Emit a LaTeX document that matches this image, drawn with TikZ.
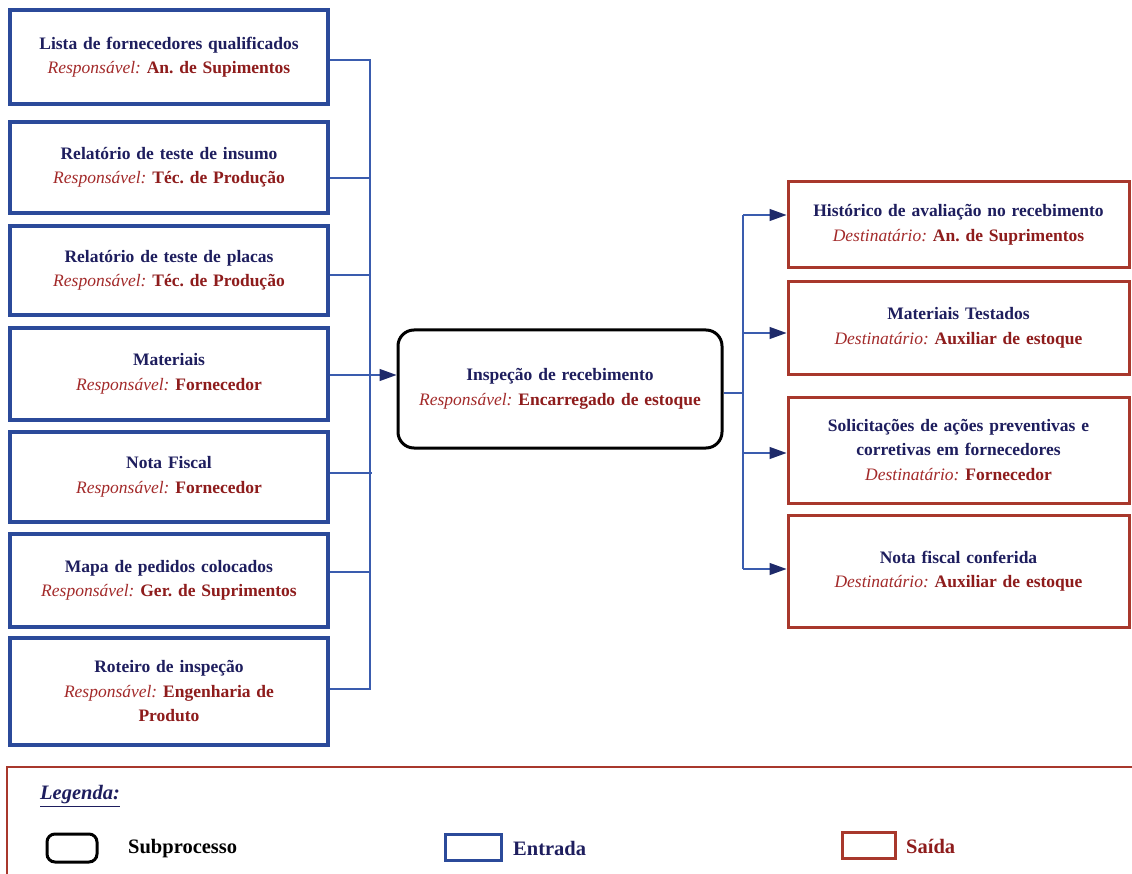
\documentclass[tikz,border=0pt]{standalone}
\usepackage{fontspec}
\setmainfont{Liberation Serif}
\usetikzlibrary{arrows.meta}

\definecolor{inblue}{HTML}{2B4A9A}
\definecolor{linkblue}{HTML}{3A5CAE}
\definecolor{outred}{HTML}{A8382C}
\definecolor{titlenavy}{HTML}{1E1E5E}
\definecolor{respred}{HTML}{8E1C1C}
\definecolor{labelred}{HTML}{A32A2A}
\definecolor{tipnavy}{HTML}{1E2A6A}

% text helpers for the boxes
\newcommand\boxtitle[1]{{\color{titlenavy}\bfseries #1}}
\newcommand\whoin[1]{{\color{labelred}\itshape Responsável:} {\color{respred}\bfseries #1}}
\newcommand\whoout[1]{{\color{labelred}\itshape Destinatário:} {\color{respred}\bfseries #1}}

\begin{document}
\frenchspacing
\begin{tikzpicture}[x=1pt,y=-1pt,
  boxtext/.style={font=\fontsize{17.5}{24.5}\selectfont, align=center, inner sep=0pt},
  inbox/.style={boxtext, draw=inblue, line width=3.2pt, fill=white,
    minimum width=318pt, text width=300pt},
  outbox/.style={boxtext, draw=outred, line width=3pt, fill=white,
    minimum width=341pt, text width=330pt},
  subproc/.style={boxtext, draw=black, line width=3pt, rounded corners=16pt,
    fill=white, minimum width=324pt, text width=310pt},
  conn/.style={draw=linkblue, line width=1.3pt},
  tip/.style={-{Triangle[length=17pt,width=12pt,fill=tipnavy,color=tipnavy]}},
  legtext/.style={font=\fontsize{20.5}{24}\selectfont\bfseries, inner sep=0pt},
]
\useasboundingbox (0,0) rectangle (1132,874);

% ---- inputs ----
\node[inbox, minimum height=94pt]  (b1) at (169,57)    {\boxtitle{Lista de fornecedores qualificados}\\ \whoin{An. de Supimentos}};
\node[inbox, minimum height=91pt]  (b2) at (169,167.5) {\boxtitle{Relatório de teste de insumo}\\ \whoin{Téc. de Produção}};
\node[inbox, minimum height=89pt]  (b3) at (169,270.5) {\boxtitle{Relatório de teste de placas}\\ \whoin{Téc. de Produção}};
\node[inbox, minimum height=92pt]  (b4) at (169,374)   {\boxtitle{Materiais}\\ \whoin{Fornecedor}};
\node[inbox, minimum height=90pt]  (b5) at (169,477)   {\boxtitle{Nota Fiscal}\\ \whoin{Fornecedor}};
\node[inbox, minimum height=93pt]  (b6) at (169,580.5) {\boxtitle{Mapa de pedidos colocados}\\ \whoin{Ger. de Suprimentos}};
\node[inbox, minimum height=107pt] (b7) at (169,691.5) {\boxtitle{Roteiro de inspeção}\\ \whoin{Engenharia de}\\ {\color{respred}\bfseries Produto}};

% ---- subprocess ----
\node[subproc, minimum height=118pt] (main) at (560,389)
  {\boxtitle{Inspeção de recebimento}\\ \whoin{Encarregado de estoque}};

% ---- outputs ----
\node[outbox, minimum height=86pt]  (r1) at (958.5,225) {\boxtitle{Histórico de avaliação no recebimento}\\ \whoout{An. de Suprimentos}};
\node[outbox, minimum height=92pt]  (r2) at (958.5,328) {\boxtitle{Materiais Testados}\\ \whoout{Auxiliar de estoque}};
\node[outbox, minimum height=106pt] (r3) at (958.5,450) {\boxtitle{Solicitações de ações preventivas e}\\ \boxtitle{corretivas em fornecedores}\\ \whoout{Fornecedor}};
\node[outbox, minimum height=112pt] (r4) at (958.5,571) {\boxtitle{Nota fiscal conferida}\\ \whoout{Auxiliar de estoque}};

% ---- input collector (shifts are in page direction: negative = lower) ----
\coordinate (ibus) at (370,0);
\draw[conn] ([yshift=-3pt]b1.east) -- ([yshift=-3pt]b1.east -| ibus)
  -- ([yshift=2.5pt]b7.east -| ibus) -- ([yshift=2.5pt]b7.east);
\draw[conn] ([yshift=-10.5pt]b2.east) -- ([yshift=-10.5pt]b2.east -| ibus);
\draw[conn] ([yshift=-4.5pt]b3.east) -- ([yshift=-4.5pt]b3.east -| ibus);
\draw[conn] ([yshift=-1pt]b4.east) -- ([yshift=-1pt]b4.east -| ibus);
\draw[conn] ([yshift=4pt]b5.east) -- ([yshift=4pt,xshift=2pt]b5.east -| ibus);
\draw[conn] ([yshift=8.5pt]b6.east) -- ([yshift=8.5pt]b6.east -| ibus);
\draw[conn, tip] ([yshift=-1pt]b4.east -| ibus) -- ([yshift=-1pt]b4.east -| main.west);

% ---- output distributor ----
\coordinate (obus) at (743,0);
\draw[conn] ([yshift=-4pt]main.east) -- ([yshift=-4pt]main.east -| obus);
\draw[conn] ([yshift=10pt]r1.west -| obus) -- ([yshift=2pt]r4.west -| obus);
\draw[conn, tip] ([yshift=10pt]r1.west -| obus) -- ([yshift=10pt]r1.west);
\draw[conn, tip] ([yshift=-5pt]r2.west -| obus) -- ([yshift=-5pt]r2.west);
\draw[conn, tip] ([yshift=-3pt]r3.west -| obus) -- ([yshift=-3pt]r3.west);
\draw[conn, tip] ([yshift=2pt]r4.west -| obus) -- ([yshift=2pt]r4.west);

% ---- legend ----
\draw[draw=outred, line width=1.6pt] (7,767) rectangle (1150,900);
\node[inner sep=0pt, text=titlenavy] (legtitle) at (80,796)
  {\fontsize{20.5}{24}\selectfont\bfseries\itshape\underline{Legenda:}};
\node[draw=black, line width=3pt, rounded corners=8pt, minimum width=50pt, minimum height=28pt] (legsub) at (72,848) {};
\node[legtext, text=black, anchor=west] (legsubtxt) at (128,849) {Subprocesso};
\node[draw=inblue, line width=3pt, minimum width=56pt, minimum height=26pt] (legin) at (473,847) {};
\node[legtext, text=titlenavy, anchor=west] (legintxt) at (513,848) {Entrada};
\node[draw=outred, line width=3pt, minimum width=53pt, minimum height=26pt] (legout) at (868.5,845) {};
\node[legtext, text=respred, anchor=west] (legouttxt) at (906,846) {Saída};
\end{tikzpicture}
\end{document}
